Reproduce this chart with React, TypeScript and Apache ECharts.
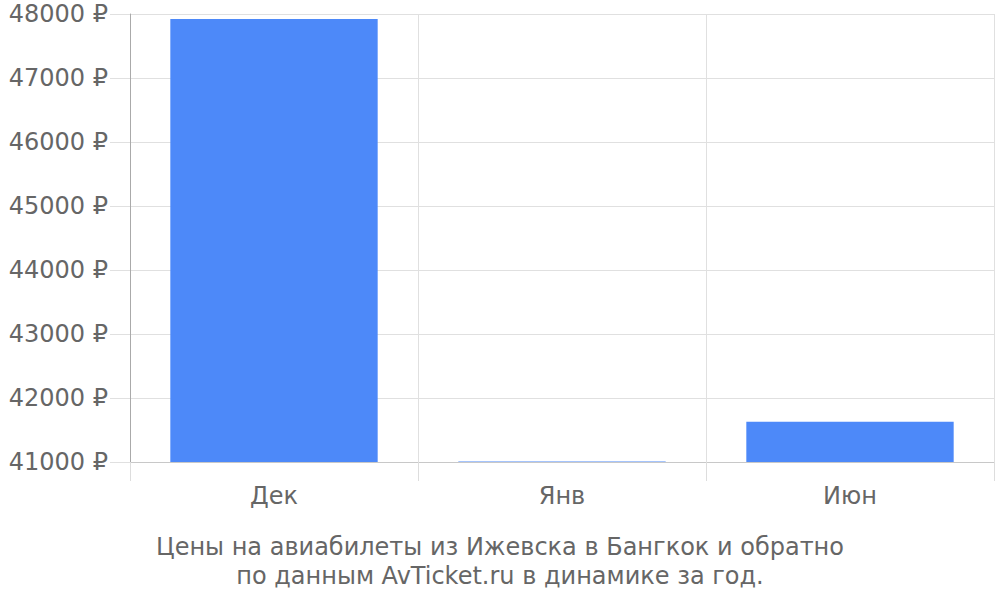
import { useEffect, useRef } from 'react'
import * as echarts from 'echarts'

const months = ['Дек', 'Янв', 'Июн']
const prices = [47920, 41008, 41630]
const yMin = 41000
const yMax = 48000
const yStep = 1000
const captionLines = [
  'Цены на авиабилеты из Ижевска в Бангкок и обратно',
  'по данным AvTicket.ru в динамике за год.',
]

const font = '"DejaVu Sans", sans-serif'

export default function App() {
  const chartRef = useRef<HTMLDivElement>(null)

  useEffect(() => {
    if (!chartRef.current) return
    const chart = echarts.init(chartRef.current, undefined, { renderer: 'svg' })
    chart.setOption({
      animation: false,
      backgroundColor: '#fff',
      textStyle: { fontFamily: font },
      grid: { left: 130, right: 6, top: 14, bottom: 138, containLabel: false },
      xAxis: {
        type: 'category',
        data: months,
        boundaryGap: true,
        axisLine: { lineStyle: { color: '#c8c8c8', width: 1 } },
        axisTick: { show: true, length: 19, lineStyle: { color: '#dddddd' } },
        splitLine: { show: true, lineStyle: { color: '#e0e0e0' } },
        axisLabel: { color: '#666', fontSize: 24, margin: 22, fontFamily: font },
      },
      yAxis: {
        type: 'value',
        min: yMin,
        max: yMax,
        interval: yStep,
        axisLine: { show: true, lineStyle: { color: '#aaaaaa' } },
        axisTick: { show: true, length: 20, lineStyle: { color: '#e0e0e0' } },
        splitLine: { show: true, lineStyle: { color: '#e0e0e0' } },
        axisLabel: {
          color: '#666',
          fontSize: 24,
          margin: 22,
          fontFamily: font,
          formatter: (v: number) => `${v} ₽`,
        },
      },
      series: [
        {
          type: 'bar',
          data: prices,
          barWidth: '72%',
          itemStyle: { color: '#4d89f9' },
        },
      ],
      graphic: captionLines.map((line, i) => ({
        type: 'text',
        left: 'center',
        top: 535 + i * 29,
        style: { text: line, fill: '#666', fontSize: 24, fontFamily: font },
      })),
    })
    return () => chart.dispose()
  }, [])

  return <div ref={chartRef} style={{ position: 'absolute', left: 0, top: 0, width: 1000, height: 600 }} />
}
